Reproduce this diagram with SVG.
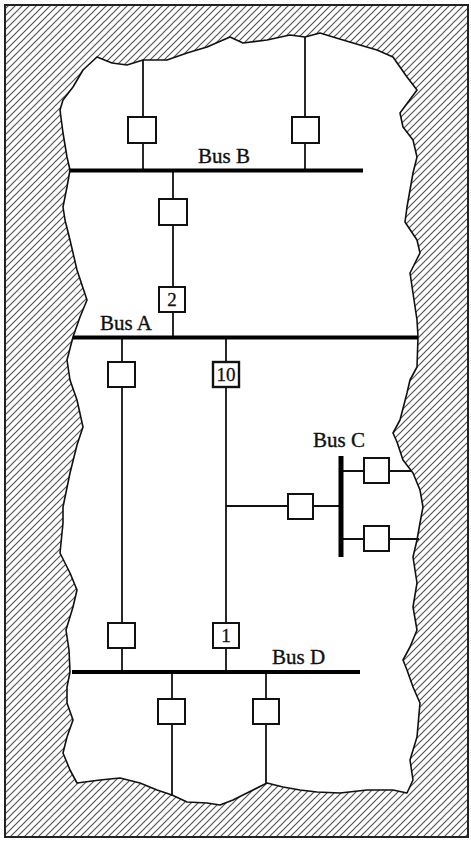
<svg xmlns="http://www.w3.org/2000/svg" width="471" height="841" viewBox="0 0 471 841">
<style>
.bus{stroke:#000;stroke-width:4;fill:none;stroke-linecap:butt}
.wire{stroke:#111;stroke-width:1.8;fill:none}
.box{fill:#fff;stroke:#111;stroke-width:2}
.lbl{font-family:"Liberation Serif","Times New Roman",serif;font-size:21px;fill:#111;stroke:#111;stroke-width:0.35}
.num{font-family:"Liberation Serif","Times New Roman",serif;font-size:19px;fill:#111;text-anchor:middle;stroke:#111;stroke-width:0.3}
</style>
<defs>
<pattern id="hatch" patternUnits="userSpaceOnUse" width="7" height="7">
<rect width="7" height="7" fill="#fff"/>
<path d="M-1,1 L1,-1 M0,7 L7,0 M6,8 L8,6" stroke="#555" stroke-width="1.2"/>
</pattern>
</defs>
<g id="frame">
<rect x="5" y="5" width="463" height="832" fill="url(#hatch)" stroke="#222" stroke-width="2"/>
<path d="M97,57 L112,63 L127,65 L143,60 L167,60 L187,53 L207,47 L230,37 L243,43 L267,40 L290,35 L305,37 L320,33 L333,37 L353,43 L377,50 L393,57 L407,77 L417,90 L400,113 L403,127 L413,140 L417,157 L413,173 L410,190 L407,207 L405,222 L417,240 L420,253 L413,267 L410,273 L413,293 L417,320 L418,337 L417,367 L410,380 L407,393 L400,420 L393,433 L397,442 L403,460 L413,473 L420,490 L423,507 L420,523 L417,540 L413,557 L417,583 L413,607 L417,630 L410,647 L403,660 L407,670 L413,687 L420,703 L417,737 L410,760 L413,780 L407,793 L393,790 L367,790 L340,793 L317,792 L300,790 L283,787 L267,783 L253,790 L233,800 L220,805 L207,803 L187,802 L172,795 L157,790 L140,783 L120,778 L100,780 L77,783 L70,770 L63,753 L67,737 L73,720 L67,703 L67,687 L70,672 L69,650 L66,630 L73,607 L77,590 L70,573 L60,553 L63,523 L63,507 L70,473 L77,445 L83,427 L77,400 L70,380 L67,360 L73,337 L80,317 L87,300 L77,270 L70,240 L65,220 L63,207 L67,187 L70,170 L67,157 L63,133 L60,110 L63,100 L73,87 L83,70 Z" fill="#fff" stroke="#111" stroke-width="1.6" stroke-linejoin="round"/>
</g>
<g id="connectors">
<line class="wire" x1="143" y1="60" x2="143" y2="170"/>
<line class="wire" x1="305" y1="37" x2="305" y2="170"/>
<line class="wire" x1="173" y1="170" x2="173" y2="337"/>
<line class="wire" x1="122" y1="337" x2="122" y2="672"/>
<line class="wire" x1="226" y1="337" x2="226" y2="672"/>
<line class="wire" x1="226" y1="506" x2="341" y2="506"/>
<line class="wire" x1="341" y1="471" x2="411" y2="471"/>
<line class="wire" x1="341" y1="539" x2="419" y2="539"/>
<line class="wire" x1="172" y1="672" x2="172" y2="796"/>
<line class="wire" x1="266" y1="672" x2="266" y2="784"/>
</g>
<g id="busB">
<line class="bus" x1="70" y1="170.5" x2="363" y2="170.5"/>
<text class="lbl" x="198" y="163">Bus B</text>
</g>
<g id="busA">
<line class="bus" x1="73" y1="337.5" x2="418" y2="337.5"/>
<text class="lbl" x="100" y="330">Bus A</text>
</g>
<g id="busC">
<line class="bus" x1="341" y1="456" x2="341" y2="557" style="stroke-width:5"/>
<text class="lbl" x="313" y="447">Bus C</text>
</g>
<g id="busD">
<line class="bus" x1="72" y1="672" x2="360" y2="672"/>
<text class="lbl" x="272" y="664">Bus D</text>
</g>
<g id="nodeB1"><rect class="box" x="128" y="117" width="28" height="26"/></g>
<g id="nodeB2"><rect class="box" x="292" y="117" width="27" height="26"/></g>
<g id="nodeBA1"><rect class="box" x="159" y="199" width="28" height="26"/></g>
<g id="node2"><rect class="box" x="159" y="287" width="26" height="25"/><text class="num" x="172" y="306">2</text></g>
<g id="nodeA1"><rect class="box" x="108" y="362" width="27" height="25"/></g>
<g id="node10"><rect class="box" x="213" y="362" width="26" height="25" style="stroke-width:2.4"/><text class="num" x="226" y="381">10</text></g>
<g id="nodeC0"><rect class="box" x="288" y="494" width="25" height="25"/></g>
<g id="nodeC1"><rect class="box" x="364" y="458" width="25" height="25"/></g>
<g id="nodeC2"><rect class="box" x="364" y="526" width="25" height="25"/></g>
<g id="nodeD1"><rect class="box" x="108" y="623" width="27" height="25"/></g>
<g id="node1"><rect class="box" x="213" y="623" width="26" height="25"/><text class="num" x="226" y="642">1</text></g>
<g id="nodeD2"><rect class="box" x="158" y="699" width="27" height="25"/></g>
<g id="nodeD3"><rect class="box" x="253" y="699" width="26" height="25"/></g>
</svg>
